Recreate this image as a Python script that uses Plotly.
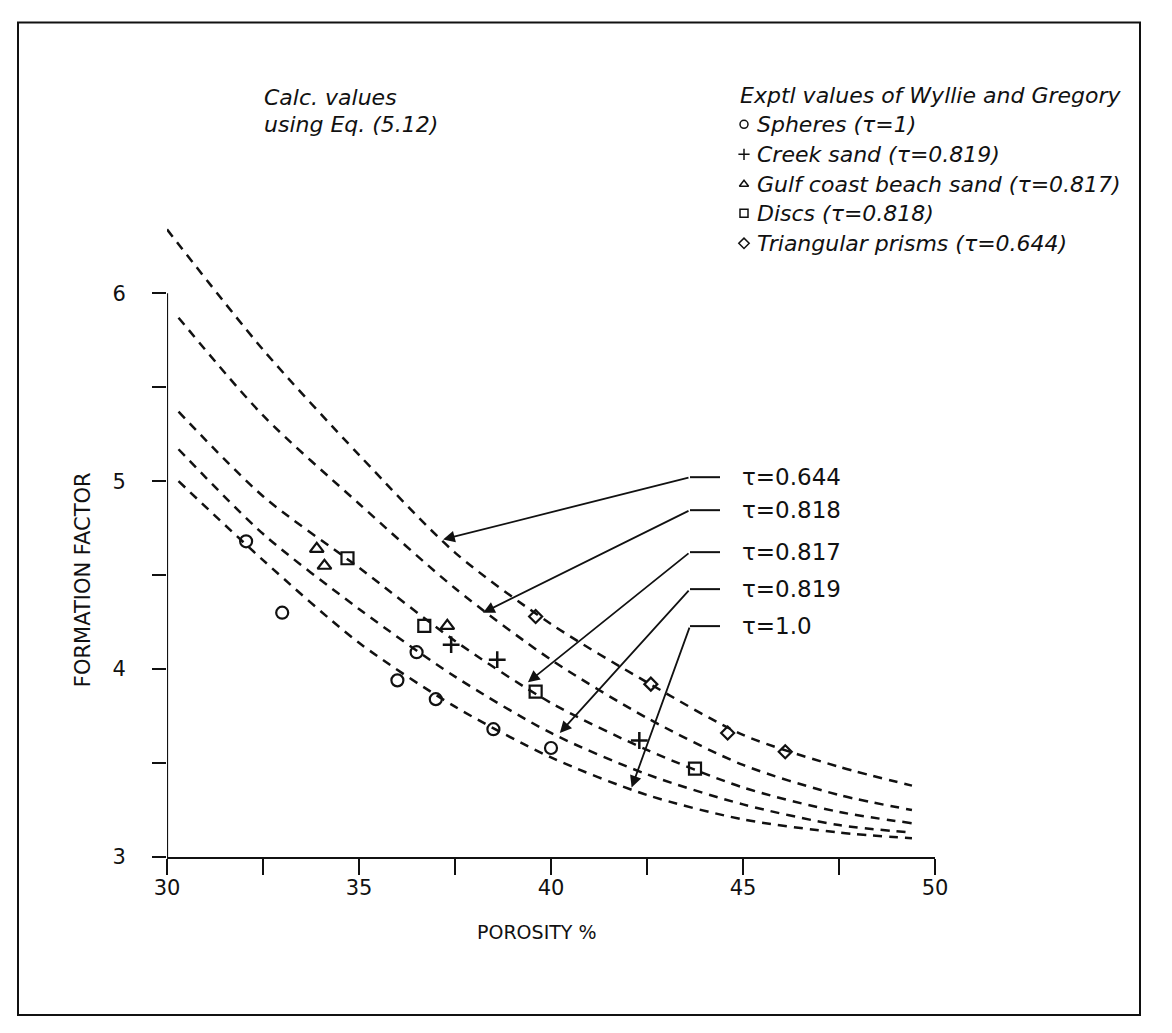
import plotly.graph_objects as go

# ---------------- data ----------------
curve_x = [30.3, 32.5, 35.0, 37.5, 40.0, 42.5, 45.0, 47.5, 49.4]
curve_x_top = [30.0, 32.5, 35.0, 37.5, 40.0, 42.5, 45.0, 47.5, 49.4]
ff_0644 = [6.34, 5.70, 5.14, 4.62, 4.24, 3.93, 3.65, 3.48, 3.38]
ff_0818 = [5.87, 5.35, 4.88, 4.43, 4.05, 3.74, 3.49, 3.33, 3.25]
ff_0817 = [5.37, 4.92, 4.54, 4.15, 3.82, 3.57, 3.37, 3.24, 3.18]
ff_0819 = [5.17, 4.72, 4.32, 3.96, 3.66, 3.44, 3.28, 3.17, 3.13]
ff_1000 = [5.00, 4.58, 4.14, 3.80, 3.53, 3.33, 3.20, 3.13, 3.10]

spheres_x = [32.06, 33.0, 36.0, 36.5, 37.0, 38.5, 40.0]
spheres_y = [4.68, 4.30, 3.94, 4.09, 3.84, 3.68, 3.58]
creek_x = [37.4, 38.6, 42.3]
creek_y = [4.13, 4.05, 3.62]
gulf_x = [33.9, 34.1, 37.3]
gulf_y = [4.64, 4.55, 4.23]
discs_x = [34.7, 36.7, 39.6, 43.75]
discs_y = [4.59, 4.23, 3.88, 3.47]
prisms_x = [39.6, 42.6, 44.6, 46.1]
prisms_y = [4.28, 3.92, 3.66, 3.56]

legend_names = ["Spheres (τ=1)", "Creek sand (τ=0.819)", "Gulf coast beach sand (τ=0.817)",
                "Discs (τ=0.818)", "Triangular prisms (τ=0.644)"]
curve_labels = ["τ=0.644", "τ=0.818", "τ=0.817", "τ=0.819", "τ=1.0"]
arrow_tip_x = [37.19, 38.23, 39.40, 40.23, 42.10]
arrow_tip_y = [4.69, 4.30, 3.93, 3.66, 3.37]

x_ticks = [30, 32.5, 35, 37.5, 40, 42.5, 45, 47.5, 50]
x_ticklabels = ["30", "", "35", "", "40", "", "45", "", "50"]
y_ticks = [3, 3.5, 4, 4.5, 5, 5.5, 6]
y_ticklabels = ["3", "", "4", "", "5", "", "6"]

# ---------------- geometry helpers ----------------
OFF = 8                    # page body margin
W, H = 1172 - OFF, 1033 - OFF
PX_L, PX_R = 167 - OFF, 935 - OFF      # x = 30 .. 50
PY_B = 857 - OFF                       # y = 3
PX_PER_Y = 188.0
Y_MAX = 7.3
PY_T = PY_B - (Y_MAX - 3) * PX_PER_Y


def px2x(px):
    return 30 + (px - OFF - PX_L) / (PX_R - PX_L) * 20


def py2y(py):
    return 3 + (PY_B - (py - OFF)) / PX_PER_Y


def paper(px, py):
    return (px - OFF - PX_L) / (PX_R - PX_L), (PY_B - (py - OFF)) / (PY_B - PY_T)


BLACK = "#111111"
ITALIC = dict(family="DejaVu Sans, Liberation Sans, sans-serif", size=22, color=BLACK, style="italic")
PLAIN = dict(family="DejaVu Sans, Liberation Sans, sans-serif", size=20, color=BLACK)

fig = go.Figure()

dash = dict(color=BLACK, width=2.5, dash="9px,7px", shape="spline", smoothing=0.8)
fig.add_trace(go.Scatter(x=curve_x_top, y=ff_0644, mode="lines", line=dash, showlegend=False))
for ys in [ff_0818, ff_0817, ff_0819, ff_1000]:
    fig.add_trace(go.Scatter(x=curve_x, y=ys, mode="lines", line=dash, showlegend=False))

mk_line = dict(color=BLACK, width=2.2)
fig.add_trace(go.Scatter(x=spheres_x, y=spheres_y, mode="markers", showlegend=False,
                         marker=dict(symbol="circle-open", size=12, line=mk_line, color=BLACK)))
fig.add_trace(go.Scatter(x=creek_x, y=creek_y, mode="markers", showlegend=False,
                         marker=dict(symbol="cross-thin-open", size=12, line=dict(color=BLACK, width=2.5), color=BLACK)))
fig.add_trace(go.Scatter(x=gulf_x, y=gulf_y, mode="markers", showlegend=False,
                         marker=dict(symbol="triangle-up-open", size=12, line=mk_line, color=BLACK)))
fig.add_trace(go.Scatter(x=discs_x, y=discs_y, mode="markers", showlegend=False,
                         marker=dict(symbol="square-open", size=12, line=mk_line, color=BLACK)))
fig.add_trace(go.Scatter(x=prisms_x, y=prisms_y, mode="markers", showlegend=False,
                         marker=dict(symbol="diamond-open", size=10, line=mk_line, color=BLACK)))

# legend block (manual)
leg_py = [124, 154, 184, 213, 243]
leg_symbols = ["circle-open", "cross-thin-open", "triangle-up-open", "square-open", "diamond-open"]
fig.add_trace(go.Scatter(x=[px2x(744)] * 5, y=[py2y(p) for p in leg_py], mode="markers",
                         showlegend=False,
                         marker=dict(symbol=leg_symbols, size=8, color=BLACK, line=dict(color=BLACK, width=1.5))))

annotations = []


def add_text(text, px, py, font, xanchor="left", textangle=0):
    xp, yp = paper(px, py)
    annotations.append(dict(text=text, x=xp, y=yp, xref="paper", yref="paper", showarrow=False,
                            xanchor=xanchor, yanchor="middle", font=font, textangle=textangle))


add_text("Calc. values", 262, 97, ITALIC)
add_text("using Eq. (5.12)", 262, 124, ITALIC)
add_text("Exptl values of Wyllie and Gregory", 738, 95, ITALIC)
for name, p in zip(legend_names, leg_py):
    add_text(name, 755, p, ITALIC)

add_text("POROSITY %", 537, 932, dict(PLAIN, size=19), xanchor="center")
add_text("FORMATION FACTOR", 83, 580, dict(PLAIN, size=21), xanchor="center", textangle=-90)

# curve labels with leader lines and arrows
label_py = [477, 510, 552, 589, 626]
shapes = []
for lab, p, tx, ty in zip(curve_labels, label_py, arrow_tip_x, arrow_tip_y):
    ly = py2y(p)
    add_text(lab, 740, p, dict(PLAIN, size=23))
    shapes.append(dict(type="line", xref="x", yref="y", x0=px2x(690), x1=px2x(720), y0=ly, y1=ly,
                       line=dict(color=BLACK, width=2)))
    annotations.append(dict(x=tx, y=ty, ax=px2x(690), ay=ly, xref="x", yref="y", axref="x", ayref="y",
                            text="", showarrow=True, arrowhead=2, arrowsize=1.3, arrowwidth=1.8,
                            arrowcolor=BLACK))

# y axis line only up to 6
shapes.append(dict(type="line", xref="x", yref="y", x0=30, x1=30, y0=3, y1=6,
                   line=dict(color=BLACK, width=2.2)))
# outer frame
fx0, fy0 = paper(18, 1015)
fx1, fy1 = paper(1140, 22)
shapes.append(dict(type="rect", xref="paper", yref="paper", x0=fx0, y0=fy0, x1=fx1, y1=fy1,
                   line=dict(color=BLACK, width=2)))

fig.update_layout(
    width=W, height=H,
    margin=dict(l=PX_L, r=W - PX_R, t=PY_T, b=H - PY_B),
    paper_bgcolor="white", plot_bgcolor="white",
    showlegend=False,
    annotations=annotations, shapes=shapes,
    xaxis=dict(range=[30, 50], showgrid=False, zeroline=False, showline=True, linecolor=BLACK,
               linewidth=2.2, ticks="outside", ticklen=16, tickwidth=2, tickcolor=BLACK,
               tickvals=x_ticks, ticktext=x_ticklabels, tickfont=dict(PLAIN, size=21),
               ticklabelstandoff=-5),
    yaxis=dict(range=[3, Y_MAX], showgrid=False, zeroline=False, showline=False,
               ticks="outside", ticklen=14, tickwidth=2, tickcolor=BLACK,
               tickvals=y_ticks, ticktext=y_ticklabels, tickfont=dict(PLAIN, size=21),
               ticklabelstandoff=22),
)

fig.write_html("out.html")
